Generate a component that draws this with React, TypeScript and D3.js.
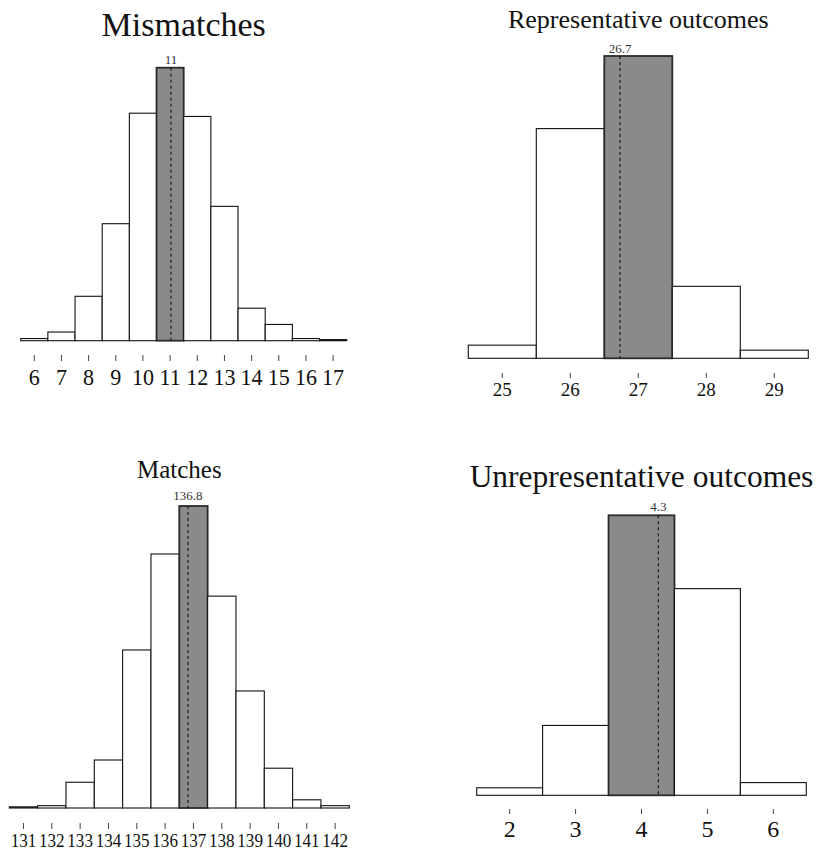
import React from "react";
import * as d3 from "d3";

// values: share of draws (%) per bin
const mismatchBins = [6, 7, 8, 9, 10, 11, 12, 13, 14, 15, 16, 17];
const mismatchShares = [0.2, 0.8, 4.1, 10.8, 21.0, 25.2, 20.7, 12.4, 3.0, 1.5, 0.2, 0.1];

const repBins = [25, 26, 27, 28, 29];
const repShares = [2.1, 36.7, 48.3, 11.5, 1.3];

const matchBins = [131, 132, 133, 134, 135, 136, 137, 138, 139, 140, 141, 142];
const matchShares = [0.1, 0.2, 2.2, 4.1, 13.5, 21.7, 25.8, 18.1, 10.0, 3.4, 0.7, 0.2];

const unrepBins = [2, 3, 4, 5, 6];
const unrepShares = [1.3, 12.1, 48.5, 35.8, 2.2];

const FONT = "'Liberation Serif', 'Times New Roman', serif";

interface Layout {
    left: number;
    right: number;
    base: number;
    top: number;
    titleY: number;
    titleSize: number;
    meanY: number;
    tickY: number;
    tickLen: number;
    labelY: number;
    labelSize: number;
    labelStretch: number;
}

interface HistProps {
    title: string;
    bins: number[];
    shares: number[];
    layout: Layout;
}

const Histogram: React.FC<HistProps> = ({ title, bins, shares, layout }) => {
    const x = d3
        .scaleLinear()
        .domain([bins[0] - 0.5, bins[bins.length - 1] + 0.5])
        .range([layout.left, layout.right]);
    const y = d3
        .scaleLinear()
        .domain([0, d3.max(shares) as number])
        .range([layout.base, layout.top]);

    const mean = d3.sum(bins, (b, i) => b * shares[i]) / d3.sum(shares);
    const meanBin = Math.round(mean);
    const meanLabel = String(Number(mean.toFixed(1)));
    const meanShare = shares[bins.indexOf(meanBin)];

    return (
        <g>
            <text
                x={(layout.left + layout.right) / 2}
                y={layout.titleY}
                textAnchor="middle"
                fontSize={layout.titleSize}
                fontFamily={FONT}
                fill="#111"
            >
                {title}
            </text>
            {bins.map((b, i) => {
                const hot = b === meanBin;
                return (
                    <rect
                        key={b}
                        x={x(b - 0.5)}
                        y={y(shares[i])}
                        width={x(b + 0.5) - x(b - 0.5)}
                        height={y(0) - y(shares[i])}
                        fill={hot ? "#8a8a8a" : "#fff"}
                        stroke={hot ? "#2a2a2a" : "#111"}
                        strokeWidth={hot ? 1.8 : 1.1}
                    />
                );
            })}
            <line
                x1={x(mean)}
                x2={x(mean)}
                y1={y(meanShare)}
                y2={y(0)}
                stroke="#111"
                strokeWidth={1.1}
                strokeDasharray="3,3"
            />
            <text
                x={x(mean)}
                y={layout.meanY}
                textAnchor="middle"
                fontSize={13}
                fontFamily={FONT}
                fill="#333"
            >
                {meanLabel}
            </text>
            {bins.map((b) => (
                <g key={"t" + b}>
                    <line
                        x1={x(b)}
                        x2={x(b)}
                        y1={layout.tickY}
                        y2={layout.tickY + layout.tickLen}
                        stroke="#444"
                        strokeWidth={1}
                    />
                    <text
                        transform={`translate(${x(b)},${layout.labelY}) scale(${layout.labelStretch},1)`}
                        textAnchor="middle"
                        fontSize={layout.labelSize}
                        fontFamily={FONT}
                        fill="#111"
                    >
                        {b}
                    </text>
                </g>
            ))}
        </g>
    );
};

const panels: { title: string; bins: number[]; shares: number[]; layout: Layout }[] = [
    {
        title: "Mismatches",
        bins: mismatchBins,
        shares: mismatchShares,
        layout: {
            left: 20.7, right: 346.7, base: 340.7, top: 67.7,
            titleY: 36, titleSize: 34, meanY: 63.5,
            tickY: 355, tickLen: 6, labelY: 385, labelSize: 24, labelStretch: 0.92,
        },
    },
    {
        title: "Representative outcomes",
        bins: repBins,
        shares: repShares,
        layout: {
            left: 468.3, right: 808.3, base: 358.3, top: 56,
            titleY: 28, titleSize: 26, meanY: 52.5,
            tickY: 373, tickLen: 5, labelY: 396, labelSize: 19, labelStretch: 1,
        },
    },
    {
        title: "Matches",
        bins: matchBins,
        shares: matchShares,
        layout: {
            left: 9.3, right: 349.3, base: 808, top: 506,
            titleY: 478, titleSize: 25, meanY: 500,
            tickY: 823, tickLen: 6, labelY: 846.7, labelSize: 19, labelStretch: 0.9,
        },
    },
    {
        title: "Unrepresentative outcomes",
        bins: unrepBins,
        shares: unrepShares,
        layout: {
            left: 476.7, right: 806.3, base: 795.3, top: 515.3,
            titleY: 486.7, titleSize: 31.5, meanY: 511,
            tickY: 809, tickLen: 5, labelY: 836.7, labelSize: 24, labelStretch: 1,
        },
    },
];

export default function App() {
    return (
        <svg
            width={819}
            height={852}
            style={{ position: "absolute", left: 0, top: 0, background: "#fff" }}
        >
            {panels.map((p) => (
                <Histogram key={p.title} {...p} />
            ))}
        </svg>
    );
}
